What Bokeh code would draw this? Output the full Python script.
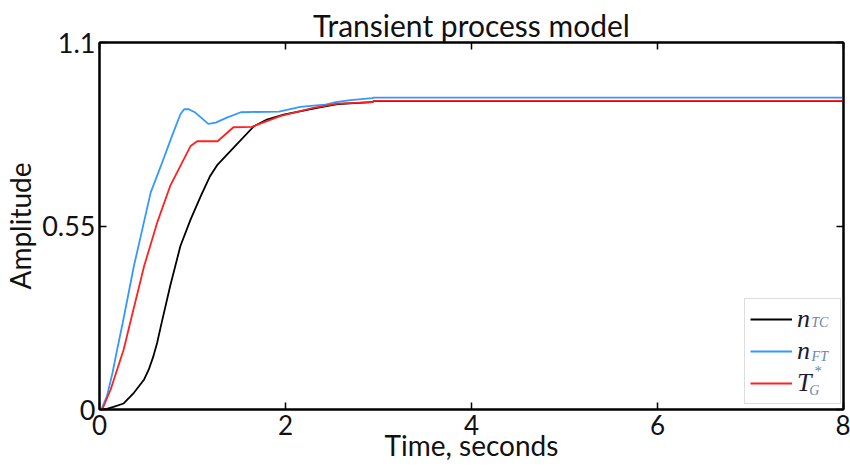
from bokeh.plotting import figure
from bokeh.models import (LinearAxis, Legend, LegendItem, Label, FixedTicker,
                          Range1d)
from bokeh.embed import file_html
from bokeh.resources import INLINE

# ---- data ----
t_tc = [0, 0.08, 0.15, 0.26, 0.37, 0.48, 0.53, 0.58, 0.62, 0.66, 0.76, 0.87,
        0.98, 1.09, 1.19, 1.27, 1.44, 1.66, 1.80, 1.98, 2.34, 2.56, 2.93, 2.95, 8]
n_tc = [0, 0.002, 0.008, 0.018, 0.05, 0.09, 0.12, 0.16, 0.20, 0.25, 0.37, 0.49,
        0.57, 0.64, 0.70, 0.734, 0.784, 0.849, 0.869, 0.884, 0.904, 0.915,
        0.921, 0.924, 0.924]

t_ft = [0, 0.02, 0.08, 0.14, 0.19, 0.25, 0.37, 0.46, 0.55, 0.66, 0.78, 0.87,
        0.91, 0.96, 1.03, 1.17, 1.25, 1.37, 1.52, 1.93, 2.16, 2.30, 2.43, 2.54,
        2.70, 2.93, 2.95, 8]
n_ft = [0, 0.0, 0.04, 0.11, 0.18, 0.26, 0.43, 0.54, 0.65, 0.73, 0.82, 0.885,
        0.90, 0.90, 0.89, 0.856, 0.86, 0.875, 0.891, 0.893, 0.907, 0.911, 0.914,
        0.921, 0.927, 0.933, 0.935, 0.935]

t_g = [0, 0.03, 0.12, 0.19, 0.26, 0.33, 0.48, 0.62, 0.76, 0.87, 0.98, 1.05,
       1.27, 1.44, 1.64, 1.70, 1.95, 2.30, 2.56, 2.93, 2.95, 8]
T_g = [0, 0.0, 0.06, 0.12, 0.18, 0.26, 0.43, 0.56, 0.67, 0.73, 0.79, 0.804,
       0.804, 0.846, 0.847, 0.854, 0.88, 0.904, 0.917, 0.921, 0.925, 0.925]

x_ticks = [0, 2, 4, 6, 8]
y_ticks = [0, 0.55, 1.1]
y_tick_labels = ["0", "0.55", "1.1"]

FONT = "Lato"

p = figure(frame_width=744, frame_height=367,
           x_range=Range1d(0, 8), y_range=Range1d(0, 1.1),
           output_backend="svg", toolbar_location=None,
           min_border_left=98, min_border_right=7,
           min_border_top=42, min_border_bottom=56,
           title="Transient process model")
p.grid.visible = False
p.outline_line_color = "black"
p.outline_line_width = 2
p.background_fill_color = "white"
p.border_fill_color = "white"

p.title.text_font = FONT
p.title.text_font_size = "30px"
p.title.text_font_style = "normal"
p.title.text_color = "#111111"
p.title.align = "center"
p.title.standoff = 0
p.title.offset = 0


def style_axis(ax, show_labels=True):
    ax.axis_line_color = "black"
    ax.axis_line_width = 2
    ax.major_tick_in = 7
    ax.major_tick_out = 0
    ax.major_tick_line_width = 1.5
    ax.major_tick_line_color = "black"
    ax.minor_tick_line_color = None
    ax.major_label_text_font = FONT
    if show_labels:
        ax.major_label_text_font_size = "26px"
        ax.major_label_text_color = "#111111"
    else:
        ax.major_label_text_font_size = "1px"
        ax.major_label_text_color = None
        ax.major_label_standoff = 0


p.xaxis.ticker = FixedTicker(ticks=x_ticks)
p.yaxis.ticker = FixedTicker(ticks=y_ticks)
p.yaxis.major_label_overrides = dict(zip(y_ticks, y_tick_labels))
style_axis(p.xaxis[0])
style_axis(p.yaxis[0])
p.yaxis.major_label_text_font_size = "27px"
p.xaxis.major_label_standoff = 5
p.yaxis.major_label_standoff = 4
p.xaxis.axis_label = "Time, seconds"
p.yaxis.axis_label = "Amplitude"
for ax in (p.xaxis[0], p.yaxis[0]):
    ax.axis_label_text_font = FONT
    ax.axis_label_text_font_size = "28px"
    ax.axis_label_text_font_style = "normal"
    ax.axis_label_text_color = "#111111"
p.xaxis.axis_label_standoff = -10
p.yaxis.axis_label_standoff = 2

top = LinearAxis(ticker=FixedTicker(ticks=x_ticks))
style_axis(top, show_labels=False)
p.add_layout(top, "above")
right = LinearAxis(ticker=FixedTicker(ticks=y_ticks))
style_axis(right, show_labels=False)
p.add_layout(right, "right")

r_tc = p.line(t_tc, n_tc, line_color="black", line_width=1.8)
r_ft = p.line(t_ft, n_ft, line_color="#3399ff", line_width=1.8)
r_g = p.line(t_g, T_g, line_color="#ff2020", line_width=1.8)

legend = Legend(items=[LegendItem(label="n", renderers=[r_tc]),
                       LegendItem(label="n", renderers=[r_ft]),
                       LegendItem(label="T", renderers=[r_g])],
                location=(645, 5))
legend.label_text_font = "Liberation Serif"
legend.label_text_font_style = "italic"
legend.label_text_font_size = "26px"
legend.label_text_color = "#1a1a33"
legend.glyph_width = 42
legend.glyph_height = 20
legend.label_height = 20
legend.label_width = 38
legend.label_standoff = 5
legend.padding = 5
legend.spacing = 2
legend.margin = 0
legend.border_line_color = "#bbbbbb"
legend.border_line_width = 1.5
legend.background_fill_alpha = 0
p.add_layout(legend, "center")

sub_color = "#6d86a8"
for txt, x, y, size in [("TC", 7.745, 0.262, "14px"), ("FT", 7.745, 0.16, "14px"),
                        ("G", 7.685, 0.058, "14px"), ("*", 7.72, 0.114, "15px")]:
    p.add_layout(Label(x=x, y=y, text=txt, text_font="Liberation Serif",
                       text_font_style="italic", text_font_size=size,
                       text_color=sub_color, text_align="center",
                       text_baseline="middle", level="overlay"))

open("out.html", "w").write(file_html(p, INLINE))
